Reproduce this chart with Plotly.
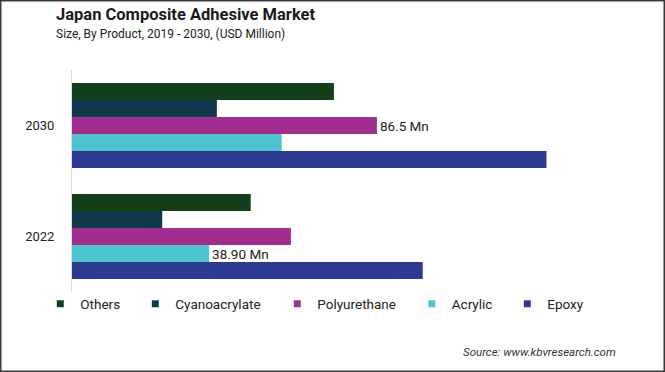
import plotly.graph_objects as go

categories = ["2022", "2030"]
series_names = ["Others", "Cyanoacrylate", "Polyurethane", "Acrylic", "Epoxy"]
others = [50.7, 74.3]
cyanoacrylate = [25.6, 41.1]
polyurethane = [62.1, 86.5]
acrylic = [38.9, 59.5]
epoxy = [99.5, 134.6]
polyurethane_labels = ["", "86.5 Mn"]
acrylic_labels = ["38.90 Mn", ""]

colors = {
    "Others": "#133F1B",
    "Cyanoacrylate": "#0F3A4E",
    "Polyurethane": "#A12D8F",
    "Acrylic": "#4FC4D0",
    "Epoxy": "#2C3A8F",
}
values = {
    "Others": others,
    "Cyanoacrylate": cyanoacrylate,
    "Polyurethane": polyurethane,
    "Acrylic": acrylic,
    "Epoxy": epoxy,
}
labels = {
    "Polyurethane": polyurethane_labels,
    "Acrylic": acrylic_labels,
}

W, H = 665, 372
ML, MR, MT, MB = 72, 29, 70, 80
PW = W - ML - MR
PH = H - MT - MB


def px_x(px):
    return (px - ML) / PW


def px_y(py):
    return (H - MB - py) / PH


FONT = "Roboto"
fig = go.Figure()

# bars: plotly places the first horizontal trace lowest in each group
for name in reversed(series_names):
    txt = labels.get(name, ["", ""])
    fig.add_trace(go.Bar(
        y=categories, x=values[name], orientation="h", name=name,
        marker=dict(color=colors[name], line=dict(width=0)),
        text=txt, textposition="outside", constraintext="none",
        textfont=dict(family=FONT, size=13.5, color="#222222"),
        cliponaxis=False, showlegend=False, hoverinfo="skip",
    ))

# legend entries (one legend each to place them like the reference)
legend_left_px = [40.3, 135.3, 277.3, 411.8, 507.3]
legend_ids = ["legend", "legend2", "legend3", "legend4", "legend5"]
for name, lid in zip(series_names, legend_ids):
    fig.add_trace(go.Scatter(
        x=[None], y=[None], mode="markers", name=name,
        marker=dict(symbol="square", size=7, color=colors[name]),
        legend=lid, showlegend=True, hoverinfo="skip",
    ))

legend_layout = {}
for lid, lp in zip(legend_ids, legend_left_px):
    legend_layout[lid] = dict(
        orientation="h", x=px_x(lp), xanchor="left", y=px_y(304), yanchor="middle",
        font=dict(family=FONT, size=13.5, color="#222222"),
        bgcolor="rgba(0,0,0,0)", itemwidth=30, itemclick=False, itemdoubleclick=False,
    )

fig.update_layout(
    width=W, height=H,
    margin=dict(l=ML, r=MR, t=MT, b=MB),
    paper_bgcolor="white", plot_bgcolor="white",
    barmode="group", bargap=0.234, bargroupgap=0,
    font=dict(family=FONT, color="#222222"),
    xaxis=dict(range=[0, 160], visible=False, fixedrange=True),
    yaxis=dict(type="category", showline=True, linecolor="#D9D9D9", linewidth=1,
               showgrid=False, zeroline=False, ticks="", ticklabelstandoff=14,
               tickfont=dict(family=FONT, size=13, color="#222222"), fixedrange=True),
    **legend_layout,
    annotations=[
        dict(text="<b>Japan Composite Adhesive Market</b>", xref="paper", yref="paper",
             x=px_x(54), y=px_y(14.5), xanchor="left", yanchor="middle", showarrow=False,
             font=dict(family=FONT, size=16.5, color="#1a1a1a")),
        dict(text="Size, By Product, 2019 - 2030, (USD Million)", xref="paper", yref="paper",
             x=px_x(54), y=px_y(34), xanchor="left", yanchor="middle", showarrow=False,
             font=dict(family=FONT, size=12, color="#222222")),
        dict(text="<i>Source: www.kbvresearch.com</i>", xref="paper", yref="paper",
             x=px_x(618), y=px_y(352), xanchor="right", yanchor="middle", showarrow=False,
             font=dict(family=FONT, size=11.5, color="#333333")),
    ],
    shapes=[
        dict(type="rect", xref="paper", yref="paper",
             x0=px_x(0.75), x1=px_x(664.25), y0=px_y(371.25), y1=px_y(0.75),
             line=dict(color="#3A3A3A", width=1.5), fillcolor="rgba(0,0,0,0)", layer="above"),
    ],
)

fig.write_html(
    "out.html",
    config={"displayModeBar": False, "staticPlot": True},
    post_script="document.body.style.margin='0';document.body.style.overflow='hidden';",
)
